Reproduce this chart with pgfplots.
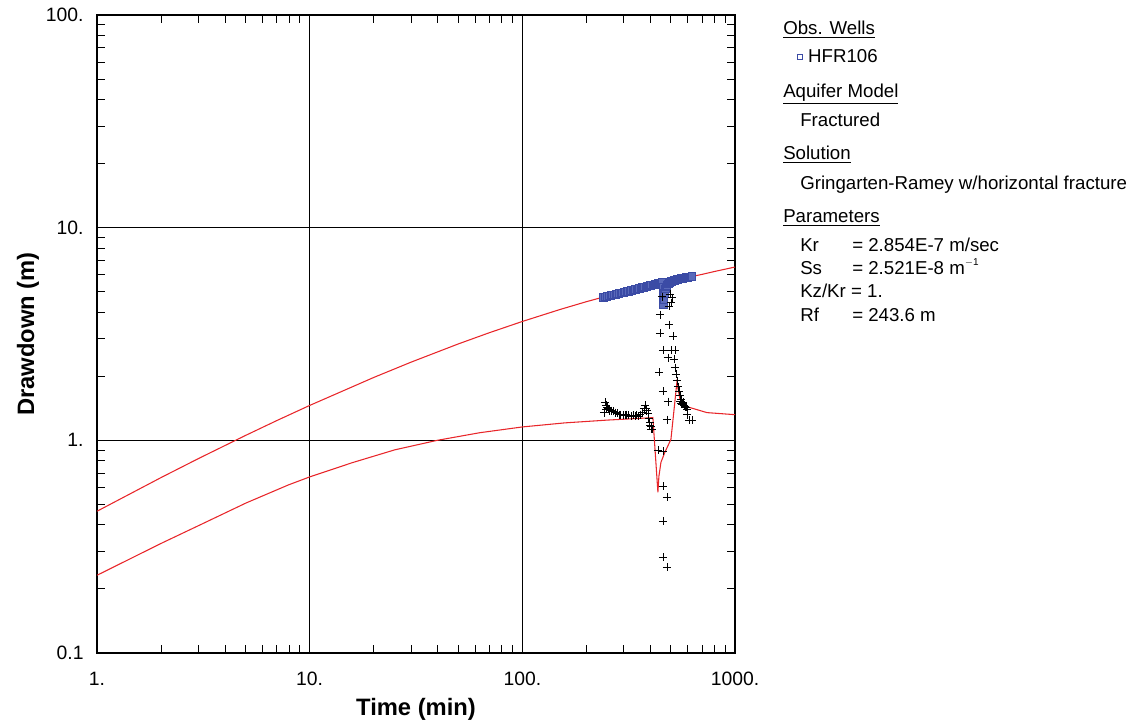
\documentclass[border=0pt]{standalone}
\usepackage{pgfplots}
\pgfplotsset{compat=1.18}
\usepackage{fontspec}
\setmainfont{Liberation Sans}
\definecolor{FitRed}{HTML}{E8262A}
\definecolor{WellBlue}{HTML}{3B4BA5}
\definecolor{WellFill}{HTML}{5A6ABA}

\begin{document}
\begin{tikzpicture}
\useasboundingbox (0,0) rectangle (852pt,545.25pt);
\begin{axis}[
  at={(72.75pt,55.5pt)}, anchor=south west,
  scale only axis, width=478.5pt, height=478.5pt,
  xmode=log, ymode=log,
  xmin=1, xmax=1000, ymin=0.1, ymax=100,
  xtick={1,10,100,1000}, xticklabels={1.,10.,100.,1000.},
  ytick={0.1,1,10,100}, yticklabels={0.1,1.,10.,100.},
  tick align=inside,
  major tick length=12pt, minor tick length=6pt,
  every tick/.style={black, line width=0.75pt},
  grid=major,
  major grid style={black, line width=0.75pt},
  axis line style={black, line width=1pt},
  tick label style={font=\fontsize{14.5}{17}\selectfont},
  xticklabel style={yshift=-10.5pt},
  yticklabel style={xshift=-6.5pt},
  xlabel={\textbf{Time (min)}},
  ylabel={\textbf{Drawdown (m)}},
  label style={font=\fontsize{17.8}{21}\selectfont},
  xlabel style={at={(axis description cs:0.5,-0.0987)}, anchor=base},
  ylabel style={at={(axis description cs:-0.108,0.5)}, anchor=center},
  clip=true,
]
% observed drawdown, HFR106
\addplot[only marks, mark=square*, mark size=2.8pt,
  mark options={draw=WellBlue, fill=WellFill, line width=0.5pt}] coordinates {
  (240,4.70) (245,4.72) (250,4.75) (255,4.78) (260,4.80) (265,4.82) (270,4.84)
  (275,4.87) (280,4.89) (285,4.91) (290,4.93) (295,4.95) (300,4.97) (305,4.99)
  (310,5.01) (315,5.03) (320,5.05) (325,5.07) (330,5.09) (335,5.11) (340,5.13)
  (345,5.15) (350,5.17) (355,5.19) (360,5.21) (365,5.23) (370,5.25) (375,5.27)
  (380,5.28) (385,5.30) (390,5.32) (395,5.34) (400,5.35) (405,5.37) (410,5.38)
  (415,5.40) (420,5.42) (425,5.43) (430,5.45) (435,5.47) (440,5.48) (445,5.50)
  (450,5.51) (455,5.53)
  (457,5.25) (458,4.95) (459,4.70) (460,4.45) (461,4.35) (463,4.60) (466,4.90)
  (470,5.15) (474,5.28) (478,5.36) (485,5.45) (490,5.50) (495,5.54) (500,5.58)
  (505,5.60) (510,5.63) (515,5.65) (520,5.66) (525,5.68) (530,5.69) (535,5.71)
  (540,5.72) (545,5.73) (550,5.74) (555,5.76) (560,5.77) (565,5.78) (570,5.79)
  (575,5.80) (580,5.81) (585,5.82) (590,5.83) (595,5.84) (600,5.85) (605,5.86)
  (610,5.87) (615,5.88) (620,5.88) (627,5.89)
};
% second data set (crosses)
\addplot[only marks, mark=+, mark size=3pt,
  mark options={black, line width=0.6pt}] coordinates {
  (241.9,1.35) (244.5,1.51) (247.2,1.46) (247.2,1.40) (249.9,1.43) (252.6,1.41)
  (255.3,1.40) (258.0,1.38) (260.9,1.38) (266.6,1.37) (272.5,1.35) (278.5,1.34)
  (284.6,1.32) (287.7,1.32) (297.2,1.31) (303.7,1.31) (307.0,1.32) (313.7,1.31)
  (324.1,1.30) (331.1,1.31) (338.4,1.30) (342.1,1.31) (349.6,1.30) (357.2,1.32)
  (365.1,1.35) (373.0,1.41) (377.1,1.46) (381.2,1.41) (385.3,1.38) (389.5,1.34)
  (393.7,1.27) (398.0,1.21) (398.0,1.18) (402.3,1.16) (402.3,1.13) (406.7,1.13)
  (453.3,4.74) (494.3,4.85) (505.1,4.69) (499.7,4.44) (489.0,4.26) (443.6,3.90)
  (489.0,3.50) (443.6,3.18) (510.6,3.08) (458.2,2.65) (499.7,2.65) (521.8,2.65)
  (483.7,2.45) (516.2,2.40) (521.8,2.20) (438.8,2.09) (527.6,2.04) (533.3,1.91)
  (458.2,1.70) (483.7,1.52) (478.5,1.25) (434.1,0.898) (458.2,0.888)
  (458.2,0.608) (478.5,0.540) (458.2,0.417) (458.2,0.282) (478.5,0.253)
  (539.2,1.79) (545.0,1.70) (550.9,1.63) (550.9,1.52) (556.9,1.56) (556.9,1.49)
  (563.0,1.48) (569.1,1.51) (575.3,1.46) (581.6,1.44) (588.0,1.43) (594.3,1.40)
  (594.3,1.32) (607.3,1.24) (627.3,1.24)
};
% fitted curve
\addplot[FitRed, line width=0.8pt] coordinates {
  (1,0.464) (2,0.668) (3,0.821) (5,1.055) (7,1.238) (10,1.459) (20,1.975)
  (30,2.332) (50,2.840) (70,3.207) (100,3.622) (150,4.12) (200,4.486)
  (300,5.01) (400,5.35) (455,5.53) (458,4.40) (463,4.62) (468,4.85) (478,5.23)
  (494,5.46) (510,5.62) (600,5.84) (700,6.03) (800,6.22) (1000,6.53)
};
% derivative curve
\addplot[FitRed, line width=0.8pt] coordinates {
  (1,0.232) (1.995,0.327) (3.162,0.407) (5.012,0.507) (7.943,0.617) (10,0.673)
  (15.85,0.785) (25.12,0.902) (39.81,1.000) (63.10,1.086) (100,1.156)
  (158.5,1.208) (251.2,1.245) (398.1,1.276) (411,1.28) (434,0.570) (438.8,0.678)
  (448.5,0.788) (468,0.879) (499.7,1.01) (533,1.87) (551,1.56) (594,1.44)
  (738,1.35) (1000,1.32)
};
\end{axis}
% side legend
\begin{scope}[every node/.style={anchor=base west, inner sep=0pt,
    font=\fontsize{14}{16}\selectfont}]
\node at (587.25pt,519pt) {\underline{Obs. Wells}};
\node at (597.5pt,498pt) {\raisebox{2.8pt}{\textcolor{WellBlue}{\fboxsep=0pt\fboxrule=0.6pt\fbox{\rule{0pt}{3.2pt}\hspace{3.2pt}}}}\hspace{4pt}HFR106};
\node at (587.25pt,471.75pt) {\underline{Aquifer Model}};
\node at (600pt,450pt) {Fractured};
\node at (587.25pt,425.25pt) {\underline{Solution}};
\node at (600pt,402.75pt) {Gringarten-Ramey w/horizontal fracture};
\node at (587.25pt,378pt) {\underline{Parameters}};
\node at (600pt,356.25pt) {\makebox[39pt][l]{Kr}= 2.854E-7 m/sec};
\node at (600pt,339pt) {\makebox[39pt][l]{Ss}= 2.521E-8 m\raisebox{0.95ex}{\fontsize{7.5}{8}\selectfont $-$1}};
\node at (600pt,321.75pt) {Kz/Kr = 1.};
\node at (600pt,303.75pt) {\makebox[39pt][l]{Rf}= 243.6 m};
\end{scope}
\end{tikzpicture}
\end{document}
